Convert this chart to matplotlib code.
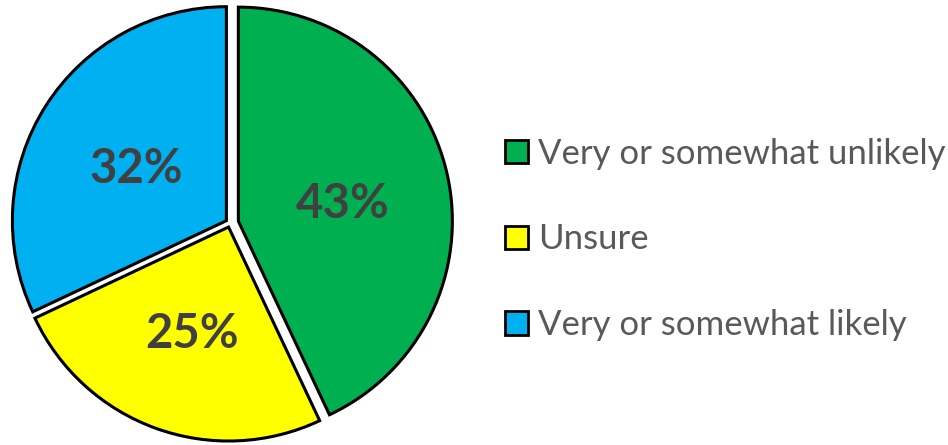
import matplotlib.pyplot as plt
from matplotlib.patches import Patch

labels = ['Very or somewhat unlikely', 'Unsure', 'Very or somewhat likely']
values = [43, 25, 32]
colors = ['#00B050', '#FFFF00', '#00B0F0']
explode = [0.04, 0.02, 0.02]

plt.rcParams['font.family'] = ['Lato', 'DejaVu Sans']

W, H = 948, 445
fig = plt.figure(figsize=(W / 100, H / 100), dpi=100)

# pie axes in pixel terms: centre (230, 223) from top, radius 214 px
r_px = 214
cx, cy = 230, H - 223
aw = 474
ax = fig.add_axes([0, 0, aw / W, 1])

wedges, texts, autotexts = ax.pie(
    values, colors=colors, explode=explode, startangle=90, counterclock=False,
    radius=1, autopct='%d%%', pctdistance=0.5,
    wedgeprops=dict(edgecolor='black', linewidth=2.2),
    textprops=dict(color='#404040', fontsize=34, fontweight='bold'))
ax.set_aspect('auto')
ax.set_xlim(-cx / r_px, (aw - cx) / r_px)
ax.set_ylim(-cy / r_px, (H - cy) / r_px)
ax.axis('off')

# nudge the percentages down a little
for t in autotexts:
    x, y = t.get_position()
    t.set_position((x, y - 6 / r_px))

handles = [Patch(facecolor=c, edgecolor='black', linewidth=2) for c in colors]
fig.legend(handles, labels, loc='center left', bbox_to_anchor=(505 / W, 0.462),
           frameon=False, fontsize=25, labelcolor='#595959',
           handlelength=0.65, handleheight=0.65, handletextpad=0.3,
           labelspacing=1.55, borderaxespad=0, borderpad=0)

fig.savefig('out.png', dpi=100)
